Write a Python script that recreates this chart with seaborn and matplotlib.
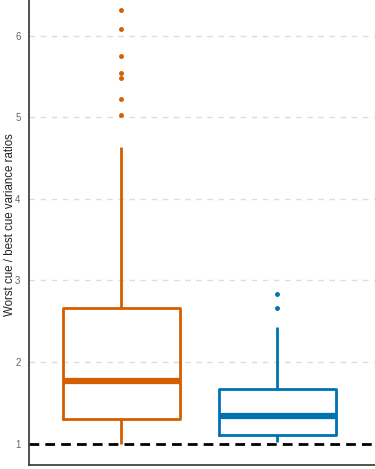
import pandas as pd
import matplotlib
matplotlib.use("Agg")
import matplotlib.pyplot as plt
import seaborn as sns

# ---------- DATA ----------
GROUPS = ["A", "B"]
COLORS = ["#D55E00", "#0072B2"]

# orange group: 33 values -> Q1 1.31, median 1.77, Q3 2.67, whisker 1.00..4.64, 7 outliers
ratios_a = [1.00, 1.05, 1.10, 1.14, 1.18, 1.21, 1.25, 1.28, 1.306,
            1.35, 1.40, 1.45, 1.50, 1.55, 1.62, 1.70, 1.77,
            1.85, 1.95, 2.05, 2.15, 2.28, 2.40, 2.55, 2.667,
            4.64, 5.025, 5.23, 5.48, 5.55, 5.755, 6.086, 6.32]
# blue group: 13 values -> Q1 1.10, median 1.34, Q3 1.665, whisker 1.02..2.43, 2 outliers
ratios_b = [1.02, 1.05, 1.08, 1.10, 1.18, 1.26, 1.34,
            1.42, 1.52, 1.665, 2.43, 2.667, 2.83]
YTICKS = [1, 2, 3, 4, 5, 6]
YLABEL = "Worst cue / best cue variance ratios"
# ---------------------------------------------------


def main():
    df = pd.DataFrame({
        "group": ["A"] * len(ratios_a) + ["B"] * len(ratios_b),
        "ratio": ratios_a + ratios_b,
    })

    sns.set_theme(style="white")
    plt.rcParams["font.family"] = ["Liberation Sans", "DejaVu Sans"]

    fig = plt.figure(figsize=(3.75, 4.69), dpi=100)
    ax = fig.add_axes([0.077, 0.009, 0.923, 0.991])

    # grid + reference line first so the boxes sit on top
    for t in YTICKS[1:]:
        ax.axhline(t, color="#DDDDDD", lw=1, ls=(0, (4, 4)), zorder=0)
    ax.axhline(1, color="black", lw=2, ls=(0, (3.5, 2.2)), zorder=1)

    sns.boxplot(data=df, x="group", y="ratio", hue="group",
                order=GROUPS, hue_order=GROUPS, palette=COLORS,
                fill=False, width=0.75, linewidth=2, showcaps=False,
                medianprops={"linewidth": 4.5},
                flierprops={"marker": "o", "markersize": 2.5},
                legend=False, ax=ax, zorder=3)

    # filled outlier dots
    for ln in ax.lines:
        if ln.get_marker() == "o":
            ln.set_markerfacecolor(ln.get_markeredgecolor())

    ax.set_xlim(-0.593, 1.625)
    ax.set_ylim(0.74, 6.44)
    ax.set_yticks(YTICKS)
    ax.set_yticklabels([str(t) for t in YTICKS], fontsize=7, color="#666666")
    ax.tick_params(axis="y", length=0, pad=6)
    ax.set_xticks([])
    ax.set_xlabel("")
    ax.set_ylabel(YLABEL, fontsize=8.3, color="#222222")
    ax.yaxis.set_label_coords(-0.038, 0.516)

    for side in ["top", "right"]:
        ax.spines[side].set_visible(False)
    for side in ["left", "bottom"]:
        ax.spines[side].set_color("#333333")
        ax.spines[side].set_linewidth(1.2)

    fig.savefig("out.png", dpi=100)
    plt.close(fig)


if __name__ == "__main__":
    main()
